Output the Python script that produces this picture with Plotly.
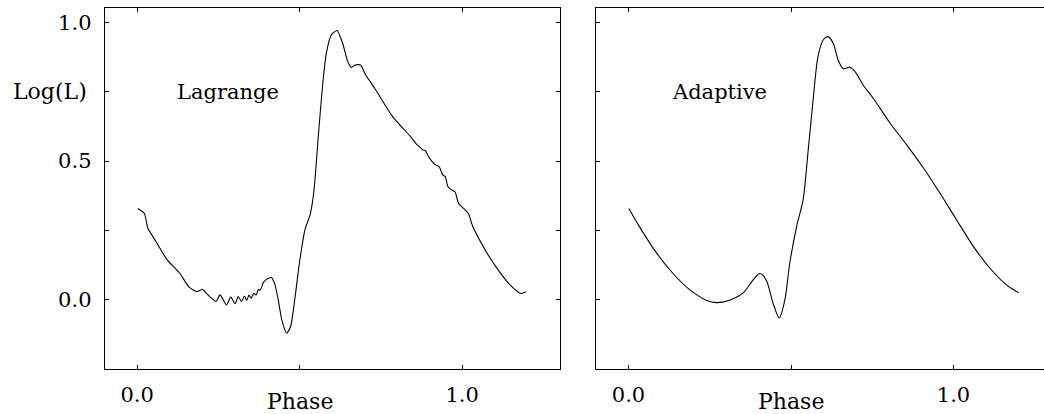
import plotly.graph_objects as go
from plotly.subplots import make_subplots

# ---- data ----
phase_lagrange = [0.002, 0.022, 0.033, 0.049, 0.093, 0.131, 0.159, 0.183, 0.201, 0.214,
                  0.242, 0.255, 0.275, 0.288, 0.301, 0.311, 0.321, 0.330, 0.337, 0.344,
                  0.351, 0.359, 0.366, 0.373, 0.378, 0.388, 0.396, 0.404, 0.414, 0.424,
                  0.434, 0.445, 0.460, 0.472, 0.486, 0.499, 0.516, 0.533, 0.544, 0.558,
                  0.571, 0.582, 0.597, 0.615, 0.632, 0.648, 0.659, 0.670, 0.687, 0.703,
                  0.731, 0.786, 0.841, 0.857, 0.868, 0.879, 0.887, 0.896, 0.907, 0.918,
                  0.929, 0.940, 0.948, 0.956, 0.967, 0.978, 0.989, 1.005, 1.019, 1.033,
                  1.071, 1.104, 1.148, 1.181, 1.196]
logL_lagrange = [0.329, 0.311, 0.257, 0.227, 0.143, 0.096, 0.047, 0.030, 0.038, 0.022,
                 -0.006, 0.018, -0.018, 0.010, -0.014, 0.012, -0.006, 0.014, -0.002, 0.017,
                 0.006, 0.024, 0.018, 0.038, 0.034, 0.062, 0.072, 0.078, 0.080, 0.054,
                 0.000, -0.072, -0.120, -0.096, 0.012, 0.132, 0.252, 0.311, 0.395, 0.600,
                 0.780, 0.888, 0.954, 0.970, 0.924, 0.858, 0.837, 0.846, 0.846, 0.810,
                 0.762, 0.660, 0.588, 0.564, 0.552, 0.540, 0.537, 0.517, 0.499, 0.486,
                 0.480, 0.450, 0.444, 0.408, 0.396, 0.389, 0.347, 0.329, 0.311, 0.263,
                 0.179, 0.119, 0.053, 0.023, 0.029]

phase_adaptive = [0.001, 0.034, 0.085, 0.137, 0.188, 0.239, 0.270, 0.311, 0.353, 0.383,
                  0.404, 0.424, 0.445, 0.464, 0.481, 0.496, 0.517, 0.537, 0.553, 0.568,
                  0.583, 0.599, 0.614, 0.630, 0.645, 0.661, 0.681, 0.697, 0.722, 0.753,
                  0.805, 0.856, 0.908, 0.959, 1.010, 1.062, 1.113, 1.164, 1.200]
logL_adaptive = [0.329, 0.263, 0.171, 0.095, 0.037, -0.001, -0.010, -0.001, 0.025, 0.071,
                 0.095, 0.071, -0.013, -0.065, -0.001, 0.131, 0.263, 0.359, 0.540, 0.720,
                 0.876, 0.936, 0.948, 0.924, 0.864, 0.832, 0.838, 0.822, 0.774, 0.726,
                 0.636, 0.558, 0.474, 0.383, 0.287, 0.191, 0.113, 0.053, 0.026]

panel_labels = ["Lagrange", "Adaptive"]
x_tickvals = [0.0, 0.5, 1.0]
x_ticktext = ["0.0", "", "1.0"]
y_tickvals = [0.0, 0.25, 0.5, 0.75, 1.0]
y_ticktext_left = ["0.0", "", "0.5", "", "1.0"]
y_ticktext_right = ["", "", "", "", ""]
x_title = "Phase"
y_title = "Log(L)"

FONT = "DejaVu Serif"
W, H = 1052, 414

fig = make_subplots(rows=1, cols=2)
fig.add_trace(go.Scatter(x=phase_lagrange, y=logL_lagrange, mode="lines",
                         line=dict(color="black", width=1.1, shape="spline", smoothing=0.6),
                         showlegend=False), row=1, col=1)
fig.add_trace(go.Scatter(x=phase_adaptive, y=logL_adaptive, mode="lines",
                         line=dict(color="black", width=1.1, shape="spline", smoothing=0.8),
                         showlegend=False), row=1, col=2)

common_x = dict(range=[-0.1, 1.3], tickvals=x_tickvals, ticktext=x_ticktext,
                ticks="inside", ticklen=4, tickwidth=1, tickcolor="black",
                showline=True, linecolor="black", linewidth=1, mirror="ticks",
                showgrid=False, zeroline=False,
                tickfont=dict(family=FONT, size=21, color="black"))
common_y = dict(range=[-0.25, 1.05], tickvals=y_tickvals,
                ticks="inside", ticklen=4, tickwidth=1, tickcolor="black",
                showline=True, linecolor="black", linewidth=1, mirror="ticks",
                showgrid=False, zeroline=False,
                tickfont=dict(family=FONT, size=21, color="black"))

ydom = [(414 - 369.3) / H, (414 - 8.3) / H]
fig.update_layout(
    xaxis=dict(common_x, domain=[104.7 / W, 559.7 / W]),
    xaxis2=dict(common_x, domain=[596.0 / W, 1051.0 / W]),
    yaxis=dict(common_y, domain=ydom, ticktext=y_ticktext_left, ticklabelstandoff=8),
    yaxis2=dict(common_y, domain=ydom, ticktext=y_ticktext_right),
    width=W, height=H,
    margin=dict(l=0, r=0, t=0, b=0),
    paper_bgcolor="white", plot_bgcolor="white",
    font=dict(family=FONT, size=21, color="black"),
)
fig.update_xaxes(ticklabelstandoff=6)

ann = []
for i, lab in enumerate(panel_labels):
    xr = "x" if i == 0 else "x2"
    yr = "y" if i == 0 else "y2"
    ann.append(dict(x=0.28, y=0.75, xref=xr, yref=yr, text=lab, showarrow=False,
                    xanchor="center", yanchor="middle",
                    font=dict(family=FONT, size=21, color="black")))
    ann.append(dict(x=0.5, y=(414 - 401) / H, xref=xr, yref="paper", text=x_title,
                    showarrow=False, xanchor="center", yanchor="middle",
                    font=dict(family=FONT, size=22, color="black")))
ann.append(dict(x=49.5 / W, y=0.75, xref="paper", yref="y", text=y_title, showarrow=False,
                xanchor="center", yanchor="middle",
                font=dict(family=FONT, size=22, color="black")))
fig.update_layout(annotations=ann)

fig.write_html("out.html",
               post_script="document.documentElement.style.overflow='hidden';"
                           "document.body.style.overflow='hidden';document.body.style.margin='0';")
